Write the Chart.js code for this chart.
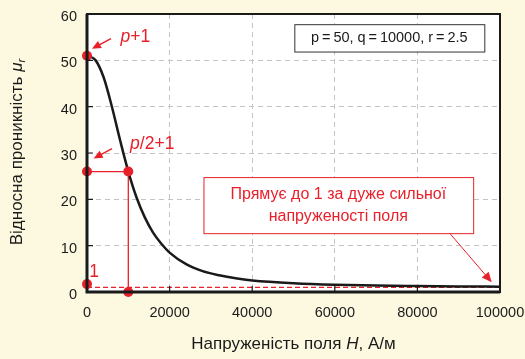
<!DOCTYPE html>
<html>
<head>
<meta charset="utf-8">
<script src="https://cdn.jsdelivr.net/npm/chart.js@4.4.0/dist/chart.umd.min.js"></script>
<style>
  body { margin: 0; background: #fdf9e0; }
  #wrap { width: 525px; height: 359px; position: relative; }
</style>
</head>
<body>
<div id="wrap"><canvas id="myChart"></canvas></div>
<script>
// curve: H (A/m) -> relative permeability
const fieldH = [0, 2000, 4000, 6000, 8000, 10000, 12000, 14000, 16000, 18000, 20000,
    24000, 28000, 32000, 36000, 40000, 50000, 60000, 70000, 80000, 90000, 100000];
const permeability = [51, 50.1, 46.4, 40.1, 32.8, 26, 20.4, 16.1, 12.8, 10.4, 8.5,
    6.0, 4.5, 3.6, 2.95, 2.5, 1.9, 1.56, 1.38, 1.28, 1.2, 1.16];

// red marker points and guide lines
const markerH = [0, 0, 10000, 10000, 0];
const markerMu = [51, 26, 26, 0, 1.7];
const guideH = [0, 10000, 10000];
const guideMu = [26, 26, 0];
const limitH = [0, 100000];
const limitMu = [1, 1];

const xTicks = [0, 20000, 40000, 60000, 80000, 100000];
const yTicks = [0, 10, 20, 30, 40, 50, 60];

const RED = '#e8202a';
const FONT = '"Liberation Sans", Arial, sans-serif';

const toPts = (xs, ys) => xs.map((x, i) => ({ x: x, y: ys[i] }));

// draws text made of several runs (normal / italic / subscript), centred
function drawRuns(c, runs, cx, cy) {
    let total = 0;
    runs.forEach((r) => {
        c.font = r.font;
        total += c.measureText(r.t).width;
    });
    let x = cx - total / 2;
    c.textAlign = 'left';
    c.textBaseline = 'middle';
    runs.forEach((r) => {
        c.font = r.font;
        c.fillText(r.t, x, cy + (r.dy || 0));
        x += c.measureText(r.t).width;
    });
}

function arrow(c, x1, y1, x2, y2, width, head) {
    const a = Math.atan2(y2 - y1, x2 - x1);
    c.lineWidth = width;
    c.beginPath();
    c.moveTo(x1, y1);
    c.lineTo(x2 - Math.cos(a) * head * 0.8, y2 - Math.sin(a) * head * 0.8);
    c.stroke();
    c.beginPath();
    c.moveTo(x2, y2);
    c.lineTo(x2 - head * Math.cos(a) + head * 0.45 * Math.sin(a), y2 - head * Math.sin(a) - head * 0.45 * Math.cos(a));
    c.lineTo(x2 - head * Math.cos(a) - head * 0.45 * Math.sin(a), y2 - head * Math.sin(a) + head * 0.45 * Math.cos(a));
    c.closePath();
    c.fill();
}

const framePlugin = {
    id: 'frame',
    beforeDraw(chart) {
        const c = chart.ctx;
        const a = chart.chartArea;
        c.save();
        c.fillStyle = '#fdf9e0';
        c.fillRect(0, 0, chart.width, chart.height);
        c.fillStyle = '#ffffff';
        c.fillRect(a.left, a.top, a.right - a.left, a.bottom - a.top);
        c.restore();
    },
    afterDraw(chart) {
        const c = chart.ctx;
        const a = chart.chartArea;
        const xs = chart.scales.x;
        const ys = chart.scales.y;
        const px = (v) => xs.getPixelForValue(v);
        const py = (v) => ys.getPixelForValue(v);
        c.save();
        // frame
        c.strokeStyle = '#1a1a1a';
        c.lineWidth = 2;
        c.strokeRect(a.left, a.top, a.right - a.left, a.bottom - a.top);
        c.lineWidth = 3;
        c.beginPath();
        c.moveTo(a.left, a.top);
        c.lineTo(a.left, a.bottom);
        c.lineTo(a.right, a.bottom);
        c.stroke();
        // inner ticks
        c.lineWidth = 1.2;
        c.beginPath();
        yTicks.forEach((v) => { c.moveTo(a.left, py(v)); c.lineTo(a.left + 6, py(v)); });
        xTicks.forEach((v) => { c.moveTo(px(v), a.bottom); c.lineTo(px(v), a.bottom - 6); });
        c.stroke();

        // red labels and arrows
        c.fillStyle = RED;
        c.strokeStyle = RED;
        const lab = '16px ' + FONT;
        const big = '17.5px ' + FONT;
        const bigI = 'italic 17.5px ' + FONT;
        drawRuns(c, [{ t: 'p', font: bigI }, { t: '+1', font: big }], px(11700), py(55.1));
        arrow(c, px(5800), py(54.7), px(1200), py(52.5), 1.5, 9);
        drawRuns(c, [{ t: 'p', font: bigI }, { t: '/2+1', font: big }], px(15800), py(31.9));
        arrow(c, px(6050), py(30.95), px(1600), py(28.8), 1.5, 9);
        drawRuns(c, [{ t: '1', font: big }], px(1700), py(4.3));

        // note box
        const bx1 = px(28200), bx2 = px(93500), by1 = py(24.8), by2 = py(12.7);
        c.fillStyle = '#ffffff';
        c.fillRect(bx1, by1, bx2 - bx1, by2 - by1);
        c.lineWidth = 1;
        c.strokeRect(bx1 + 0.5, by1 + 0.5, bx2 - bx1, by2 - by1);
        c.fillStyle = RED;
        drawRuns(c, [{ t: 'Прямує до 1 за дуже сильної', font: lab }], (bx1 + bx2) / 2, py(21.1));
        drawRuns(c, [{ t: 'напруженості поля', font: lab }], (bx1 + bx2) / 2, py(16.3));
        arrow(c, px(87900), py(12.6), px(98000), py(2.1), 1, 10);

        // parameter box
        const qx1 = px(50200), qx2 = px(96200), qy1 = py(57.8), qy2 = py(51.9);
        c.fillStyle = '#ffffff';
        c.fillRect(qx1, qy1, qx2 - qx1, qy2 - qy1);
        c.strokeStyle = '#333';
        c.lineWidth = 1;
        c.strokeRect(qx1 + 0.5, qy1 + 0.5, qx2 - qx1, qy2 - qy1);
        c.fillStyle = '#1a1a1a';
        drawRuns(c, [{ t: 'p\u2009=\u200950, q\u2009=\u200910000, r\u2009=\u20092.5', font: '14.5px ' + FONT }],
            (qx1 + qx2) / 2, (qy1 + qy2) / 2);

        // axis titles
        const tf = '17px ' + FONT;
        const tfi = 'italic 17px ' + FONT;
        drawRuns(c, [{ t: 'Напруженість поля ', font: tf }, { t: 'H', font: tfi }, { t: ', А/м', font: tf }],
            (a.left + a.right) / 2, 344);
        c.translate(17, 152);
        c.rotate(-Math.PI / 2);
        drawRuns(c, [{ t: 'Відносна проникність ', font: tf }, { t: 'μ', font: tfi },
            { t: 'r', font: 'italic 11.5px ' + FONT, dy: 5 }], 0, 0);
        c.restore();
    },
};

const ctx = document.getElementById('myChart');

new Chart(ctx, {
    type: 'line',
    data: {
        datasets: [
            {
                data: toPts(markerH, markerMu),
                showLine: false,
                pointRadius: 5,
                pointBackgroundColor: RED,
                pointBorderWidth: 0,
                clip: false,
                order: 0,
            },
            {
                data: toPts(fieldH, permeability),
                borderColor: '#1a1a1a',
                borderWidth: 2.5,
                pointRadius: 0,
                cubicInterpolationMode: 'monotone',
                order: 1,
            },
            {
                data: toPts(guideH, guideMu),
                borderColor: RED,
                borderWidth: 1.3,
                pointRadius: 0,
                order: 2,
            },
            {
                data: toPts(limitH, limitMu),
                borderColor: RED,
                borderWidth: 1.2,
                borderDash: [5, 3],
                pointRadius: 0,
                order: 3,
            },
        ],
    },
    options: {
        responsive: true,
        maintainAspectRatio: false,
        animation: false,
        events: [],
        layout: { padding: { top: 14, right: 25, left: 0, bottom: 0 } },
        plugins: {
            legend: { display: false },
            tooltip: { enabled: false },
        },
        scales: {
            x: {
                type: 'linear',
                min: 0,
                max: 100000,
                afterBuildTicks: (s) => { s.ticks = xTicks.map((v) => ({ value: v })); },
                afterFit: (s) => { s.height = 67; s.paddingLeft = 0; s.paddingRight = 0; },
                border: { display: false, dash: [5, 4] },
                grid: {
                    color: '#c4c4c4',
                    lineWidth: 1,
                    drawTicks: false,
                },
                ticks: {
                    color: '#1a1a1a',
                    padding: 12,
                    maxRotation: 0,
                    callback: (v) => String(v),
                    font: { family: FONT, size: 14.5 },
                },
            },
            y: {
                min: 0,
                max: 60,
                afterBuildTicks: (s) => { s.ticks = yTicks.map((v) => ({ value: v })); },
                afterFit: (s) => { s.width = 87; s.paddingTop = 0; s.paddingBottom = 0; },
                border: { display: false, dash: [5, 4] },
                grid: {
                    color: '#c4c4c4',
                    lineWidth: 1,
                    drawTicks: false,
                },
                ticks: {
                    color: '#1a1a1a',
                    padding: 10,
                    labelOffset: 3,
                    font: { family: FONT, size: 14.5 },
                },
            },
        },
    },
    plugins: [framePlugin],
});
</script>
</body>
</html>
